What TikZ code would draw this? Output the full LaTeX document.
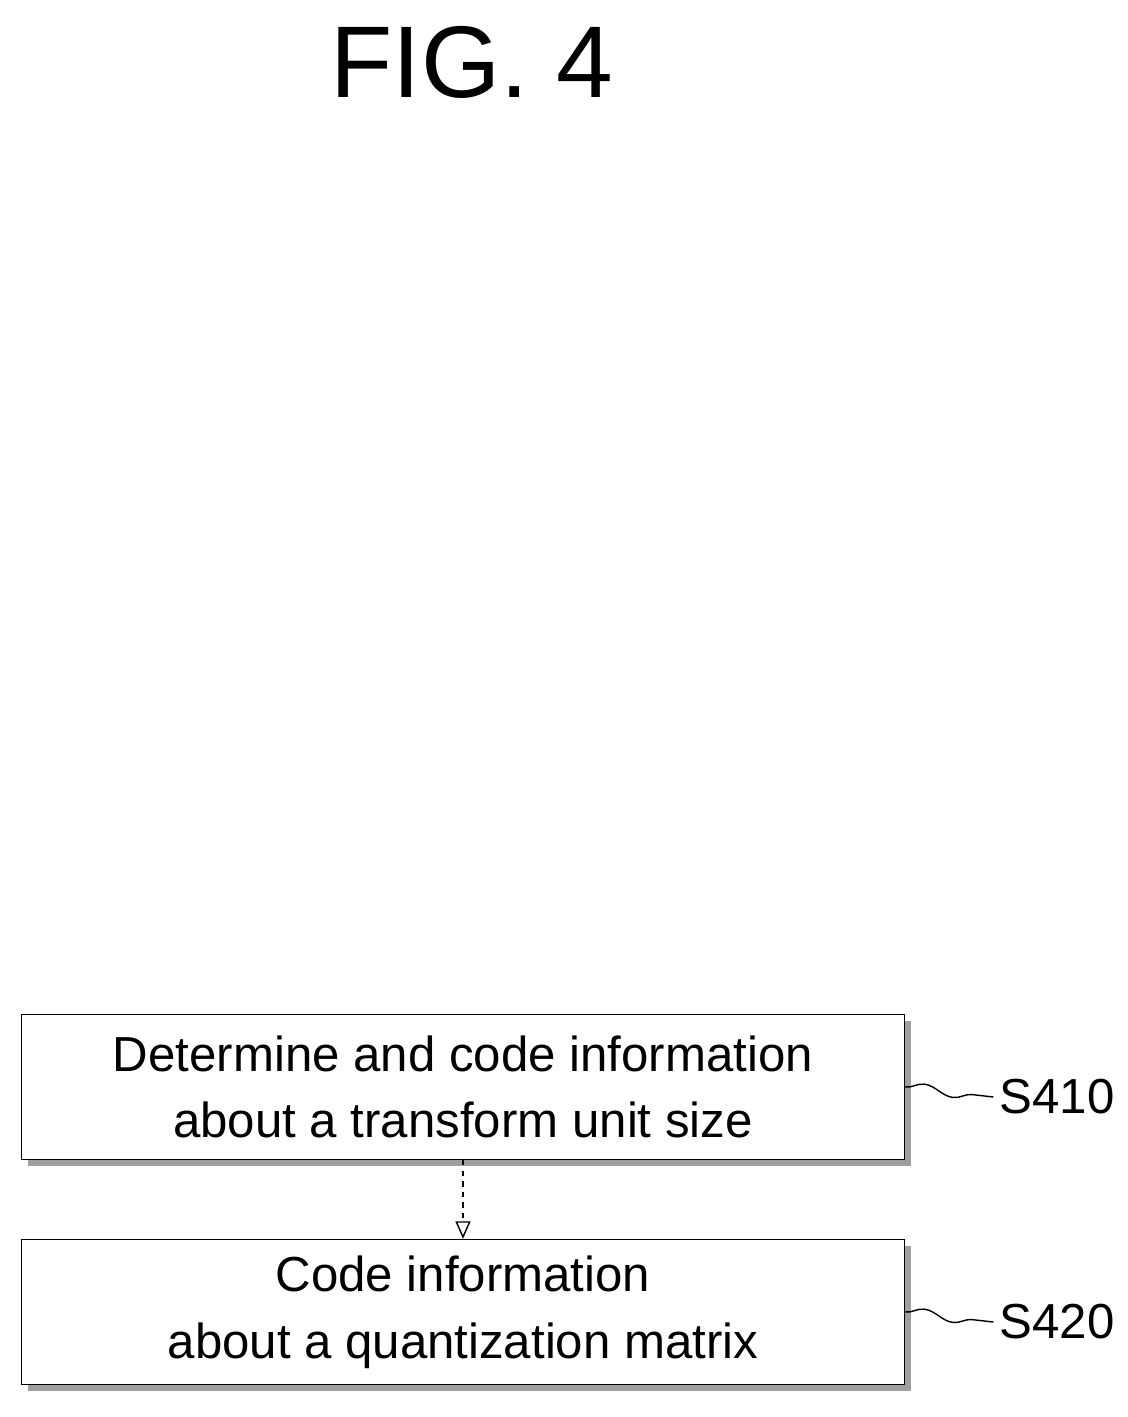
\documentclass[tikz,border=0pt]{standalone}
\usepackage{fontspec}
\setmainfont{Liberation Sans}
\usetikzlibrary{positioning,arrows.meta,decorations.pathmorphing,shadows}
\tikzset{
  stepbox/.style={draw, thick, fill=white, minimum width=17.66cm, minimum height=2.9cm,
    align=center, font=\fontsize{28}{38}\selectfont,
    drop shadow={shadow xshift=0.13cm, shadow yshift=-0.13cm, fill=black!75}},
  steplabel/.style={font=\fontsize{28}{34}\selectfont},
  wave/.style={thick, decorate, decoration={snake, amplitude=0.1cm, segment length=1.2cm}},
  arrow/.style={thick, dashed, -{Triangle[open, length=0.35cm, width=0.3cm]}}
}
\begin{document}
\begin{tikzpicture}[x=0.02cm, y=-0.02cm]
\useasboundingbox (0,0) rectangle (1128,1417);
% title
\node[font=\fontsize{58}{64}\selectfont] (title) at (472,62) {FIG. 4};
% steps
\node[stepbox] (s410) at (463,1087) {Determine and code information\\about a transform unit size};
\node[stepbox] (s420) at (463,1312) {Code information\\about a quantization matrix};
\draw[arrow] (s410) -- (s420);
% labels
\node[steplabel] (l410) at (1057,1097) {S410};
\node[steplabel] (l420) at (1057,1322) {S420};
\draw[wave] (s410.east) -- (l410.west);
\draw[wave] (s420.east) -- (l420.west);
\end{tikzpicture}
\end{document}
